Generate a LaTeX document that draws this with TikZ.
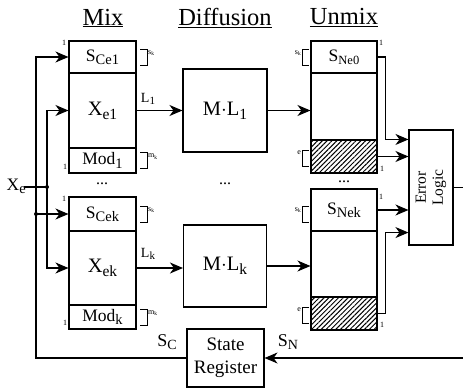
\documentclass[tikz,border=0pt]{standalone}
\usepackage{fontspec}
\setmainfont{Liberation Serif}
\usetikzlibrary{arrows.meta,patterns.meta}
\newcommand{\dn}[2]{\raisebox{-0.4ex}{\fontsize{#1}{#1}\selectfont #2}}
\begin{document}
\begin{tikzpicture}[x=1pt,y=-1pt,
  box/.style={draw,line width=1.1pt,inner sep=0pt},
  mixbox/.style={box,minimum width=67pt},
  unbox/.style={box,minimum width=66pt},
  hatchbox/.style={unbox,pattern={Lines[angle=45,distance=3.4pt,line width=1pt]}},
  wire/.style={line width=1.1pt},
  arr/.style={wire,-{Stealth[length=13pt,width=11pt,inset=4pt]}},
  brk/.style={line width=0.8pt},
  tiny/.style={inner sep=0pt,font=\fontsize{8}{8}\selectfont},
  title/.style={inner sep=0pt,font=\fontsize{24.5}{25}\selectfont},
  big/.style={font=\fontsize{20.5}{21}\selectfont},
  mid/.style={font=\fontsize{17.5}{18}\selectfont},
  dots/.style={inner sep=0pt,font=\fontsize{16}{16}\selectfont},
  dot/.style={circle,fill,inner sep=0pt,minimum size=4pt}
]
\useasboundingbox (0,0) rectangle (463,391);

% titles
\node[title] (tmix) at (103,18) {\underline{Mix}};
\node[title] (tdiff) at (225,18) {\underline{Diffusion}};
\node[title] (tunmix) at (344,18) {\underline{Unmix}};

% Mix column
\node[mixbox,minimum height=32pt,mid] (sce1) at (102.5,57) {S\dn{14.5}{Ce1}};
\node[mixbox,minimum height=75pt,big] (xe1) at (102.5,110.5) {X\dn{15.5}{e1}};
\node[mixbox,minimum height=25pt,mid] (mod1) at (102.5,160.5) {Mod\dn{14.5}{1}};
\node[mixbox,minimum height=34pt,mid] (scek) at (102.5,214) {S\dn{14.5}{Cek}};
\node[mixbox,minimum height=74pt,big] (xek) at (102.5,268) {X\dn{15.5}{ek}};
\node[mixbox,minimum height=24pt,mid] (modk) at (102.5,317) {Mod\dn{14.5}{k}};
\node[dots] (mdots) at (102,184) {...};

% Diffusion
\node[box,minimum width=84pt,minimum height=83pt,big] (ml1) at (225,110.5) {M$\cdot$L\dn{15.5}{1}};
\node[box,minimum width=83pt,minimum height=82pt,big] (mlk) at (225,266) {M$\cdot$L\dn{15.5}{k}};
\node[dots] (ddots) at (225,184) {...};

% Unmix
\node[unbox,minimum height=32pt,mid] (sne0) at (344,57) {S\dn{12.5}{Ne0}};
\node[unbox,minimum height=67pt] (mid1) at (344,106.5) {};
\node[hatchbox,minimum height=33pt] (hatch1) at (344,156.5) {};
\node[unbox,minimum height=42pt,mid] (snek) at (344,210) {S\dn{14.5}{Nek}};
\node[unbox,minimum height=66pt] (midk) at (344,264) {};
\node[hatchbox,minimum height=33pt] (hatchk) at (344,313.5) {};
\node[dots] (udots) at (344,182) {...};

% Error logic
\node[box,minimum width=44pt,minimum height=115pt] (el) at (431,187.5) {};
\node[rotate=90,align=center,inner sep=0pt,font=\fontsize{15.5}{17}\selectfont] (eltxt) at (el.center) {Error\\Logic};

% State register
\node[box,minimum width=77pt,minimum height=58pt,align=center,font=\fontsize{19}{23}\selectfont] (sr) at (225.5,358) {State\\Register};

% labels
\node[inner sep=0pt,anchor=east,font=\fontsize{17.5}{18}\selectfont] (xelbl) at (26,186) {X\dn{14.5}{e}};
\node[inner sep=0pt,font=\fontsize{18}{18}\selectfont] (sclbl) at (167,342) {S\dn{14}{C}};
\node[inner sep=0pt,font=\fontsize{18}{18}\selectfont] (snlbl) at (288,342) {S\dn{14}{N}};
\node[inner sep=0pt,font=\fontsize{14}{14}\selectfont] (l1lbl) at (148,99) {L\dn{11}{1}};
\node[inner sep=0pt,font=\fontsize{14}{14}\selectfont] (lklbl) at (148,254) {L\dn{11}{k}};

% tiny 1 labels
\node[tiny] (o1) at (64,43) {1};
\node[tiny] (o2) at (65,167) {1};
\node[tiny] (o3) at (64,199) {1};
\node[tiny] (o4) at (65,323) {1};
\node[tiny] (o5) at (381,43) {1};
\node[tiny] (o6) at (382,169) {1};
\node[tiny] (o7) at (381,197) {1};
\node[tiny] (o8) at (382,325) {1};

% brackets mix side
\draw[brk] (140,49) -- (147,49) -- (147,65) -- (140,65);
\node[tiny,anchor=west] (sk1) at (148,53) {s\dn{5.5}{k}};
\draw[brk] (140,152.5) -- (147,152.5) -- (147,168.5) -- (140,168.5);
\node[tiny,anchor=west] (mk1) at (148,156.5) {m\dn{5.5}{k}};
\draw[brk] (140,206) -- (147,206) -- (147,222) -- (140,222);
\node[tiny,anchor=west] (sk2) at (148,210) {s\dn{5.5}{k}};
\draw[brk] (140,309) -- (147,309) -- (147,325) -- (140,325);
\node[tiny,anchor=west] (mk2) at (148,313) {m\dn{5.5}{k}};

% brackets unmix side
\draw[brk] (309,49) -- (302,49) -- (302,65) -- (309,65);
\node[tiny,anchor=east] (sk3) at (301,53) {s\dn{5.5}{k}};
\draw[brk] (309,150) -- (302,150) -- (302,166) -- (309,166);
\node[tiny,anchor=east] (e1) at (301,153) {e};
\draw[brk] (309,206) -- (302,206) -- (302,222) -- (309,222);
\node[tiny,anchor=east] (sk4) at (301,210) {s\dn{5.5}{k}};
\draw[brk] (309,307) -- (302,307) -- (302,323) -- (309,323);
\node[tiny,anchor=east] (e2) at (301,310) {e};

% left wiring
\coordinate (xein) at (24,187);
\coordinate (j1) at (47,187);
\draw[wire] (xein) -- (j1);
\draw[arr] (j1) |- (xe1.west);
\draw[arr] (j1) |- (xek.west);
\node[dot] at (j1) {};
\coordinate (cl) at (36,358);
\draw[arr] (sr.west) -- (cl) |- (sce1.west);
\coordinate (j2) at (cl |- scek.west);
\draw[arr] (j2) -- (scek.west);
\node[dot] at (j2) {};

% mix -> diffusion -> unmix
\draw[arr] (xe1.east) -- (ml1.west);
\draw[arr] (xek.east) -- (xek.east -| mlk.west);
\draw[arr] (ml1.east) -- (ml1.east -| mid1.west);
\draw[arr] (mlk.east) -- (mlk.east -| midk.west);

% unmix -> error logic
\draw[arr] (sne0.east) -- ++(8,0) |- ([yshift=-10pt]el.north west);
\draw[arr] (hatch1.east) -- (hatch1.east -| el.west);
\draw[arr] (snek.east) -- (snek.east -| el.west);
\draw[arr] (hatchk.east) -- ++(8,0) |- ([yshift=13pt]el.south west);
\coordinate (elout) at (463,187.5);
\draw[wire] (el.east) -- (elout);

% state feedback
\coordinate (snin) at (463,358);
\draw[arr] (snin) -- (sr.east);
\end{tikzpicture}
\end{document}
